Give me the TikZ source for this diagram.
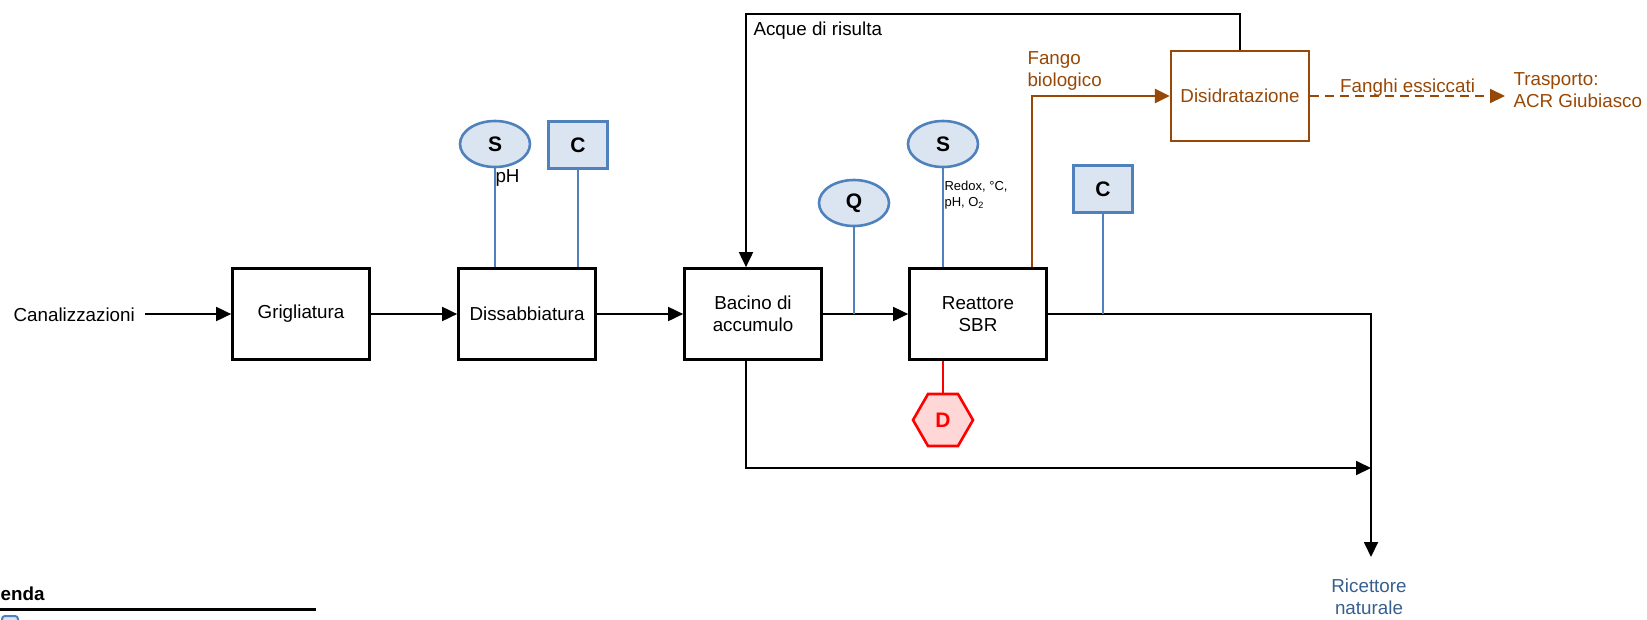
\documentclass[tikz,border=0pt]{standalone}
\usepackage{fontspec}
\setmainfont{Liberation Sans}
\usetikzlibrary{arrows.meta,shapes.geometric}

\definecolor{bordoblu}{RGB}{79,129,189}
\definecolor{fondoblu}{RGB}{219,229,241}
\definecolor{marrone}{RGB}{152,72,6}
\definecolor{rosso}{RGB}{255,0,0}
\definecolor{rosa}{RGB}{255,215,215}
\definecolor{bluscuro}{RGB}{54,95,145}

\tikzset{
  fase/.style={draw, line width=2.7pt, minimum width=137pt, minimum height=91pt, align=center},
  sonda/.style={ellipse, draw=bordoblu, fill=fondoblu, line width=2.6pt, minimum width=70pt, minimum height=46pt, inner sep=0pt, font=\fontsize{21}{24}\selectfont\bfseries},
  regola/.style={draw=bordoblu, fill=fondoblu, line width=2.6pt, minimum width=59pt, minimum height=47pt, inner sep=0pt, font=\fontsize{21}{24}\selectfont\bfseries},
  dosa/.style={regular polygon, regular polygon sides=6, draw=rosso, fill=rosa, text=rosso, line width=2.6pt, minimum size=60pt, inner sep=0pt, font=\fontsize{21}{24}\selectfont\bfseries},
  flusso/.style={line width=1.8pt, -{Triangle[length=15pt,width=14pt]}},
  asta/.style={draw=bordoblu, line width=2.4pt},
  fango/.style={draw=marrone, line width=2.6pt, -{Triangle[length=15pt,width=14pt]}},
}

\begin{document}
\begin{tikzpicture}[x=1pt, y=-1pt, every node/.style={font=\fontsize{18.8}{21.5}\selectfont}]
	  \useasboundingbox (0,0) rectangle (1647,619);
	  \clip (0,0) rectangle (1647,619);

	  % linea acque
	  \node [ anchor=east, inner sep=10pt ] (canal) at (145,315) {Canalizzazioni};
	  \node [ fase ] (grig) at (301,314) {Grigliatura};
	  \node [ fase ] (diss) at (527,314) {Dissabbiatura};
	  \node [ fase ] (bac) at (753,314) {Bacino di\\accumulo};
	  \node [ fase ] (reatt) at (978,314) {Reattore\\SBR};
	  \node [ fase, draw=marrone, text=marrone, line width=2.4pt, minimum width=138pt, minimum height=90pt ] (disid) at (1240,96) {Disidratazione};

	  \draw [ flusso ] (canal.east |- grig.west) -- (grig.west);
	  \draw [ flusso ] (grig.east) -- (diss.west);
	  \draw [ flusso ] (diss.east) -- (bac.west);
	  \draw [ flusso ] (bac.east) -- (reatt.west);

	  \coordinate (ritorno) at (746,14);
	  \coordinate (bypass) at (746,468);
	  \coordinate (scarico) at (1371,557);
	  \draw [ flusso ] (disid.north) |- (ritorno) -- (ritorno |- bac.north);
	  \node [ anchor=west ] (acque) at (750,31) {Acque di risulta};
	  \draw [ flusso ] (bypass |- bac.south) -- (bypass) -- (bypass -| scarico);
	  \draw [ flusso ] (reatt.east) -| (scarico);
	  \node [ text=bluscuro, align=center ] (ricett) at (1369,597) {Ricettore\\naturale};

	  % fanghi
	  \draw [ fango ] ([xshift=54pt]reatt.north) |- (disid.west);
	  \node [ anchor=west, text=marrone, align=left ] (fbio) at (1024,71) {Fango\\biologico};
	  \coordinate (trasp) at (1505,96);
	  \draw [ fango, line width=2pt, dash pattern=on 9pt off 6pt ] (disid.east) -- (trasp)
	        node [ midway, anchor=base, yshift=4pt, inner sep=0pt, text=marrone ] (fess) {Fanghi essiccati};
	  \node [ anchor=west, text=marrone, align=left ] (acr) at (1510,90) {Trasporto:\\ACR Giubiasco};

	  % strumenti
	  \node [ sonda ] (s1) at (495,144) {S};
	  \node [ regola ] (c1) at (578,145) {C};
	  \node [ sonda ] (q) at (854,203) {Q};
	  \node [ sonda ] (s2) at (943,144) {S};
	  \node [ regola ] (c2) at (1103,189) {C};
	  \node [ dosa ] (d) at (943,420) {D};
	  \draw [ asta ] (s1.south) -- (s1.south |- diss.north);
	  \draw [ asta ] (c1.south) -- (c1.south |- diss.north);
	  \draw [ asta ] (q.south) -- (q.south |- bac.east);
	  \draw [ asta ] (s2.south) -- (s2.south |- reatt.north);
	  \draw [ asta ] (c2.south) -- (c2.south |- reatt.east);
	  \draw [ rosso, line width=2.4pt ] (reatt.south -| d.north) -- (d.north);
	  \node [ anchor=west ] (ph) at (492,178) {pH};
	  \node [ anchor=west, align=left, font=\fontsize{13}{16}\selectfont ] (redox) at (941,195) {Redox, °C,\\pH, O\textsubscript{2}};

	  % legenda
	  \node [ anchor=east, font=\fontsize{18.8}{21.5}\selectfont\bfseries ] (legenda) at (48,596) {Legenda};
	  \draw [ line width=3pt ] (0,609) -- (316,609);
	  \draw [ bordoblu, fill=fondoblu, line width=2pt, rounded corners=3pt ] (2,616) rectangle (18,640);
	\end{tikzpicture}
\end{document}
